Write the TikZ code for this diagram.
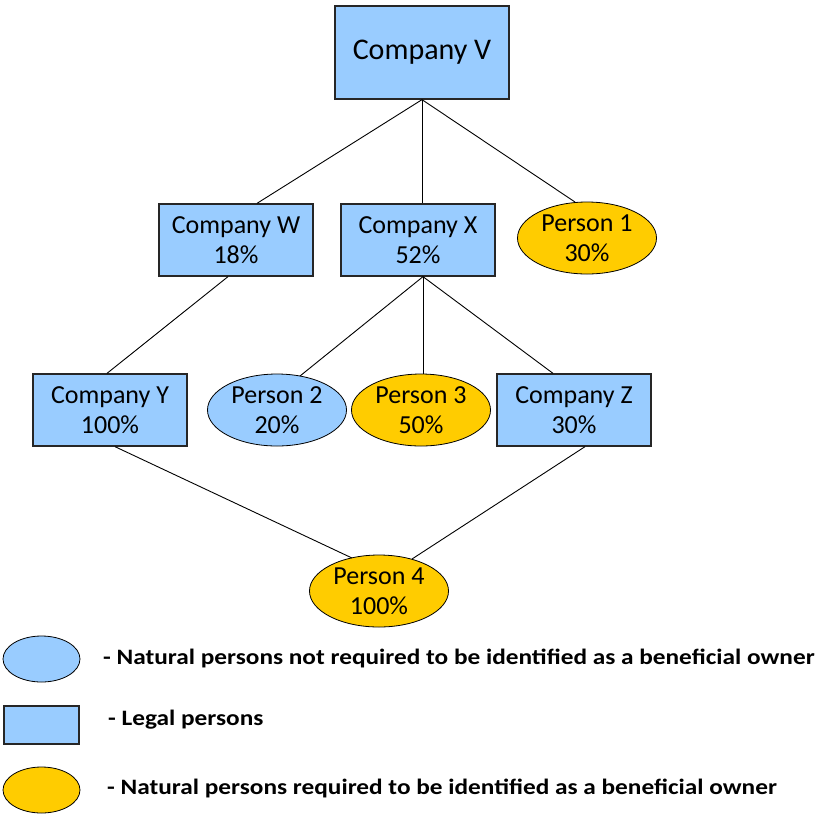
\documentclass[tikz,border=0pt]{standalone}
\usepackage{fontspec}
\setmainfont{Carlito}
\usetikzlibrary{shapes.geometric,calc}
\definecolor{lblue}{HTML}{99CCFF}
\definecolor{gold}{HTML}{FFCC00}
\newcommand{\legstretch}[1]{\scalebox{1.15}[1]{#1}}
\begin{document}
\begin{tikzpicture}[x=1pt,y=-1pt,
  legal/.style={rectangle, draw=black!85, line width=1.3pt, fill=lblue, minimum width=154pt, minimum height=72pt, inner sep=0pt, align=center, font=\fontsize{26}{30}\selectfont},
  natural/.style={ellipse, draw=black, line width=0.8pt, minimum width=139pt, minimum height=72pt, inner sep=0pt, align=center, font=\fontsize{26}{30}\selectfont},
  notbo/.style={natural, fill=lblue},
  isbo/.style={natural, fill=gold},
  conn/.style={draw=black, line width=0.9pt},
  legtext/.style={anchor=west, inner sep=0pt, font=\fontsize{22}{26}\selectfont\bfseries}
]
\useasboundingbox (0,0) rectangle (817,815);

% tree
\node[legal, minimum width=174pt, minimum height=93pt, font=\fontsize{30}{34}\selectfont] (V) at (422,52.5) {Company V};
\node[legal] (W) at (236,240) {Company W\\18\%};
\node[legal] (X) at (418,240) {Company X\\52\%};
\node[isbo] (P1) at (587,238) {Person 1\\30\%};
\node[legal] (Y) at (110,410) {Company Y\\100\%};
\node[notbo] (P2) at (277,410) {Person 2\\20\%};
\node[isbo] (P3) at (421,410) {Person 3\\50\%};
\node[legal] (Z) at (574,410) {Company Z\\30\%};
\node[isbo] (P4) at (379,591) {Person 4\\100\%};

\draw[conn] (V.south) -- ([xshift=21pt]W.north);
\draw[conn] (V.south) -- (V.south |- X.north);
\draw[conn] (V.south) -- ($(P1.center)+(-12,-36)$);
\draw[conn] ([xshift=-8pt]W.south) -- ([xshift=-3pt]Y.north);
\draw[conn] ([xshift=5pt]X.south) -- ($(P2.center)+(23,-34)$);
\draw[conn] ([xshift=5pt]X.south) -- ($(P3.center)+(2,-36)$);
\draw[conn] ([xshift=5pt]X.south) -- ([xshift=-21pt]Z.north);
\draw[conn] ([xshift=5pt]Y.south) -- ($(P4.center)+(-27,-33)$);
\draw[conn] ([xshift=11pt]Z.south) -- ($(P4.center)+(33,-32)$);

% legend
\node[notbo, minimum width=77pt, minimum height=46pt] (L1) at (41.5,659) {};
\node[legal, minimum width=75pt, minimum height=38pt] (L2) at (41.5,725) {};
\node[isbo, minimum width=77pt, minimum height=46pt] (L3) at (41.5,790) {};
\node[legtext] (T1) at (103,658) {\legstretch{- Natural persons not required to be identified as a beneficial owner}};
\node[legtext] (T2) at (108,720) {\legstretch{- Legal persons}};
\node[legtext] (T3) at (107,788) {\legstretch{- Natural persons required to be identified as a beneficial owner}};
\end{tikzpicture}
\end{document}
